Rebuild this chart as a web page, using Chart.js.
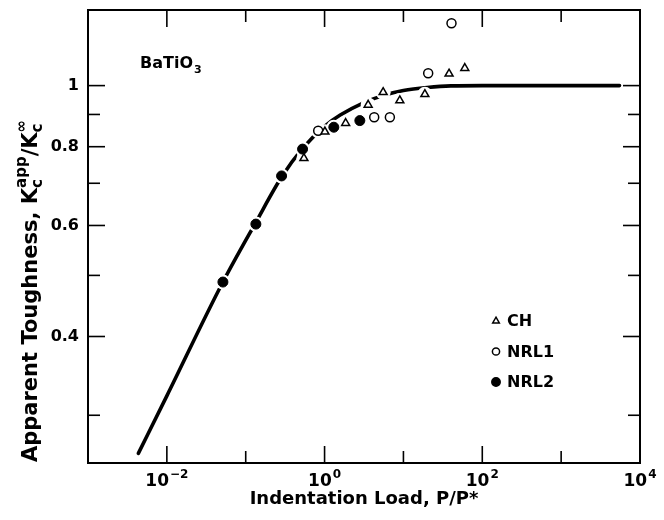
<!DOCTYPE html>
<html>
<head>
<meta charset="utf-8">
<script src="https://cdn.jsdelivr.net/npm/chart.js@4.4.0/dist/chart.umd.min.js"></script>
<style>
  html, body { margin: 0; padding: 0; background: #fff; }
  #wrap { width: 664px; height: 520px; }
</style>
</head>
<body>
<div id="wrap"><canvas id="chart" width="664" height="520"></canvas></div>
<script>
// model curve
const curveLoad = [0.00435, 0.01, 0.0514, 0.1345, 0.285, 0.526, 1.0, 1.58, 3.16, 5.62, 10, 20, 40, 100, 1000, 5500];
const curveToughness = [0.261, 0.322, 0.488, 0.607, 0.716, 0.795, 0.862, 0.898, 0.94, 0.965, 0.982, 0.993, 0.999, 1.0, 1.0, 1.0];

// measured points
const chLoad = [0.547, 1.01, 1.85, 3.57, 5.53, 9.0, 18.7, 37.9, 60];
const chToughness = [0.767, 0.845, 0.872, 0.932, 0.976, 0.947, 0.969, 1.044, 1.066];
const nrl1Load = [0.83, 4.26, 6.73, 20.6, 40.7];
const nrl1Toughness = [0.848, 0.891, 0.891, 1.046, 1.256];
const nrl2Load = [0.0514, 0.1345, 0.285, 0.526, 1.31, 2.80];
const nrl2Toughness = [0.488, 0.603, 0.719, 0.793, 0.859, 0.880];

// axes
const xTickExponents = [-3, -2, -1, 0, 1, 2, 3, 4];
const xLabelExponents = [-2, 0, 2, 4];
const yTickValues = [0.3, 0.4, 0.5, 0.6, 0.7, 0.8, 0.9, 1.0];
const yTickLabels = ['', '0.4', '', '0.6', '', '0.8', '', '1'];

const FONT = '"DejaVu Sans", "Liberation Sans", Arial, sans-serif';

const pairs = (xs, ys) => xs.map((v, i) => ({ x: v, y: ys[i] }));

// frame plus inward tick marks on all four sides, and the 10^n labels
const frameAndTicks = {
    id: 'frameAndTicks',
    afterDraw(chart) {
        const { ctx, chartArea: a, scales: { x, y } } = chart;
        ctx.save();
        ctx.strokeStyle = '#000';
        ctx.lineWidth = 1.6;
        const seg = (x1, y1, x2, y2) => { ctx.beginPath(); ctx.moveTo(x1, y1); ctx.lineTo(x2, y2); ctx.stroke(); };
        xTickExponents.forEach(e => {
            const px = x.getPixelForValue(10 ** e);
            if (px <= a.left + 1 || px >= a.right - 1) return;
            const len = xLabelExponents.includes(e) ? 17 : 12;
            seg(px, a.bottom, px, a.bottom - len);
            seg(px, a.top, px, a.top + len);
        });
        yTickValues.forEach((v, i) => {
            const py = y.getPixelForValue(v);
            const len = yTickLabels[i] ? 17 : 12;
            seg(a.left, py, a.left + len, py);
            seg(a.right, py, a.right - len, py);
        });
        ctx.lineWidth = 2;
        ctx.strokeRect(a.left, a.top, a.right - a.left, a.bottom - a.top);

        // x tick labels: base 10 with a raised exponent
        ctx.fillStyle = '#000';
        ctx.textBaseline = 'alphabetic';
        ctx.textAlign = 'left';
        xLabelExponents.forEach(e => {
            const px = x.getPixelForValue(10 ** e);
            const exp = e < 0 ? '\u2212' + Math.abs(e) : String(e);
            ctx.font = 'bold 17px ' + FONT;
            const wb = ctx.measureText('10').width;
            ctx.font = 'bold 12px ' + FONT;
            const we = ctx.measureText(exp).width;
            const left = px - (wb + we + 1) / 2;
            ctx.font = 'bold 17px ' + FONT;
            ctx.fillText('10', left, a.bottom + 23);
            ctx.font = 'bold 12px ' + FONT;
            ctx.fillText(exp, left + wb + 1, a.bottom + 15);
        });
        ctx.restore();
    }
};

// y axis title with stacked sub/superscripts, BaTiO3 note and legend
const annotations = {
    id: 'annotations',
    afterDraw(chart) {
        const { ctx } = chart;
        ctx.save();
        ctx.fillStyle = '#000';

        // y title, written bottom to top
        const big = 'bold 21px ' + FONT, small = 'bold 15px ' + FONT;
        ctx.translate(37, 462);
        ctx.rotate(-Math.PI / 2);
        ctx.textBaseline = 'alphabetic';
        ctx.textAlign = 'left';
        let cx = 0;
        ctx.font = big;
        ctx.fillText('Apparent Toughness, K', cx, 0);
        cx += ctx.measureText('Apparent Toughness, K').width;
        ctx.font = small;
        ctx.fillText('app', cx, -11);
        ctx.fillText('c', cx, 5);
        cx += ctx.measureText('app').width;
        ctx.font = big;
        ctx.fillText('/K', cx, 0);
        cx += ctx.measureText('/K').width;
        ctx.font = small;
        ctx.fillText('\u221E', cx, -11);
        ctx.fillText('c', cx, 5);
        ctx.setTransform(1, 0, 0, 1, 0, 0);

        // material label
        ctx.font = 'bold 16px ' + FONT;
        ctx.fillText('BaTiO', 140, 68);
        const bw = ctx.measureText('BaTiO').width;
        ctx.font = 'bold 11px ' + FONT;
        ctx.fillText('3', 140 + bw + 1, 73);

        // legend
        const items = chart.data.datasets.filter(d => d.label);
        items.forEach((d, i) => {
            const ly = 321 + i * 30.5;
            ctx.fillStyle = d.pointBackgroundColor;
            ctx.strokeStyle = d.pointBorderColor;
            ctx.lineWidth = 1.5;
            Chart.helpers.drawPoint(ctx, { pointStyle: d.pointStyle, radius: d.legendRadius, rotation: 0, borderWidth: 1.5 }, 496, ly);
            ctx.fillStyle = '#000';
            ctx.font = 'bold 16px ' + FONT;
            ctx.textBaseline = 'middle';
            ctx.fillText(d.label, 507, ly + 1);
        });
        ctx.restore();
    }
};

const allLoad = [...nrl2Load, ...chLoad, ...nrl1Load];
const allToughness = [...nrl2Toughness, ...chToughness, ...nrl1Toughness];

new Chart(document.getElementById('chart'), {
    type: 'scatter',
    data: {
        datasets: [
            {
                label: 'CH', data: pairs(chLoad, chToughness), order: 1,
                pointStyle: 'triangle', pointRadius: 4.6, legendRadius: 3.8,
                pointBackgroundColor: '#fff', pointBorderColor: '#000', pointBorderWidth: 1.5
            },
            {
                label: 'NRL1', data: pairs(nrl1Load, nrl1Toughness), order: 1,
                pointStyle: 'circle', pointRadius: 4.5, legendRadius: 3.6,
                pointBackgroundColor: '#fff', pointBorderColor: '#000', pointBorderWidth: 1.5
            },
            {
                label: 'NRL2', data: pairs(nrl2Load, nrl2Toughness), order: 1,
                pointStyle: 'circle', pointRadius: 5, legendRadius: 4.2,
                pointBackgroundColor: '#000', pointBorderColor: '#000', pointBorderWidth: 1
            },
            {
                label: '', data: pairs(allLoad, allToughness), order: 2,
                pointStyle: 'circle', pointRadius: 7.5, pointBorderWidth: 0,
                pointBackgroundColor: '#fff', pointBorderColor: '#fff'
            },
            {
                label: '', data: pairs(curveLoad, curveToughness), order: 3,
                showLine: true, pointRadius: 0, borderColor: '#000', borderWidth: 3.6,
                cubicInterpolationMode: 'monotone', borderCapStyle: 'round'
            }
        ]
    },
    options: {
        responsive: false,
        animation: false,
        events: [],
        layout: { padding: { top: 10, right: 24, left: 0, bottom: 0 } },
        plugins: { legend: { display: false }, tooltip: { enabled: false } },
        scales: {
            x: {
                type: 'logarithmic',
                min: 1e-3,
                max: 1e4,
                grid: { display: false, drawTicks: false },
                border: { display: false },
                afterFit: s => { s.height = 57; s.paddingLeft = 0; s.paddingRight = 0; },
                afterBuildTicks: s => { s.ticks = xTickExponents.map(e => ({ value: 10 ** e })); },
                ticks: { display: false },
                title: {
                    display: true,
                    text: 'Indentation Load, P/P*',
                    color: '#000',
                    font: { family: FONT, size: 18, weight: 'bold' },
                    padding: { top: 2, bottom: 10 }
                }
            },
            y: {
                type: 'logarithmic',
                min: 0.252,
                max: 1.318,
                grid: { display: false, drawTicks: false },
                border: { display: false },
                afterFit: s => { s.width = 88; s.paddingTop = 0; s.paddingBottom = 0; },
                afterBuildTicks: s => { s.ticks = yTickValues.map(v => ({ value: v })); },
                ticks: {
                    autoSkip: false,
                    padding: 9,
                    color: '#000',
                    font: { family: FONT, size: 16, weight: 'bold' },
                    callback: v => {
                        const i = yTickValues.findIndex(t => Math.abs(t - v) < 1e-6);
                        return i >= 0 ? yTickLabels[i] : '';
                    }
                }
            }
        }
    },
    plugins: [frameAndTicks, annotations]
});
</script>
</body>
</html>
